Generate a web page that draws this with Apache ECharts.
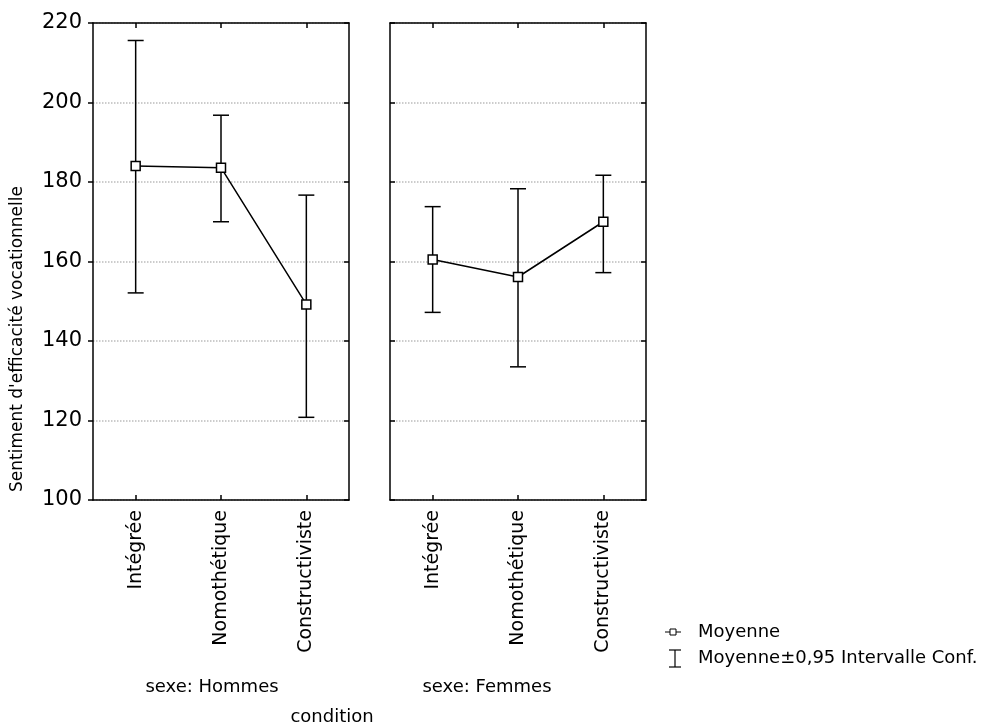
<!DOCTYPE html>
<html>
<head>
<meta charset="utf-8">
<script src="https://cdn.jsdelivr.net/npm/echarts@6/dist/echarts.min.js"></script>
<style>html,body{margin:0;padding:0;background:#fff}#c{width:985px;height:727px}</style>
</head>
<body>
<div id="c"></div>
<script>
var categories = ['Intégrée', 'Nomothétique', 'Constructiviste'];
var hommesMean = [184.0, 183.6, 149.2];
var hommesLow = [152.1, 170.0, 120.8];
var hommesHigh = [215.6, 196.8, 176.7];
var femmesMean = [160.5, 156.1, 170.0];
var femmesLow = [147.2, 133.5, 157.2];
var femmesHigh = [173.8, 178.3, 181.7];
var yTicks = [100, 120, 140, 160, 180, 200, 220];
var panelTitles = ['sexe: Hommes', 'sexe: Femmes'];
var xTitle = 'condition';
var yTitle = "Sentiment d'efficacité vocationnelle";
var legendMean = 'Moyenne';
var legendCI = 'Moyenne±0,95 Intervalle Conf.';

var FONT = 'DejaVu Sans';
var chart = echarts.init(document.getElementById('c'), null, {renderer: 'canvas'});

function errData(low, high) {
  return categories.map(function (c, i) { return [i, low[i], high[i]]; });
}
function renderErr(params, api) {
  var x = api.value(0);
  var lo = api.coord([x, api.value(1)]);
  var hi = api.coord([x, api.value(2)]);
  var cap = 8;
  var st = {stroke: '#000', lineWidth: 1.5, fill: null};
  return {
    type: 'group',
    children: [
      {type: 'line', shape: {x1: hi[0], y1: hi[1], x2: lo[0], y2: lo[1]}, style: st},
      {type: 'line', shape: {x1: hi[0] - cap, y1: hi[1], x2: hi[0] + cap, y2: hi[1]}, style: st},
      {type: 'line', shape: {x1: lo[0] - cap, y1: lo[1], x2: lo[0] + cap, y2: lo[1]}, style: st}
    ]
  };
}

var yMin = yTicks[0], yMax = yTicks[yTicks.length - 1], yStep = yTicks[1] - yTicks[0];
function yAxisDef(gi, pos, showLabel, tickInside) {
  return {
    type: 'value', gridIndex: gi, position: pos, min: yMin, max: yMax, interval: yStep,
    axisLine: {show: true, lineStyle: {color: '#000', width: 1.5}},
    axisTick: {show: true, inside: tickInside, length: 5, lineStyle: {color: '#000', width: 1.5}},
    axisLabel: {show: showLabel, color: '#000', fontFamily: FONT, fontSize: 21, margin: 11},
    splitLine: {show: pos === 'left', lineStyle: {color: '#bcbcbc', type: 'dotted', width: 1.5}}
  };
}
function xAxisDef(gi, pos, showLabel) {
  return {
    type: 'category', gridIndex: gi, position: pos, data: categories, boundaryGap: true,
    axisLine: {show: true, onZero: false, lineStyle: {color: '#000', width: 1.5}},
    axisTick: {show: true, inside: true, alignWithLabel: true, length: 5, lineStyle: {color: '#000', width: 1.5}},
    axisLabel: {show: showLabel, rotate: 90, color: '#000', fontFamily: FONT, fontSize: 19, margin: 10, interval: 0},
    splitLine: {show: false}
  };
}

var option = {
  animation: false,
  backgroundColor: '#fff',
  grid: [
    {left: 93, top: 23, width: 256, height: 477},
    {left: 390, top: 23, width: 256, height: 477}
  ],
  xAxis: [xAxisDef(0, 'bottom', true), xAxisDef(0, 'top', false), xAxisDef(1, 'bottom', true), xAxisDef(1, 'top', false)],
  yAxis: [yAxisDef(0, 'left', true, false), yAxisDef(0, 'right', false, true), yAxisDef(1, 'left', false, true), yAxisDef(1, 'right', false, true)],
  series: [
    {type: 'custom', xAxisIndex: 0, yAxisIndex: 0, data: errData(hommesLow, hommesHigh), renderItem: renderErr, z: 2},
    {type: 'custom', xAxisIndex: 2, yAxisIndex: 2, data: errData(femmesLow, femmesHigh), renderItem: renderErr, z: 2},
    {type: 'line', xAxisIndex: 0, yAxisIndex: 0, data: hommesMean, symbol: 'rect', symbolSize: 9, z: 3,
      lineStyle: {color: '#000', width: 1.5}, itemStyle: {color: '#fff', borderColor: '#000', borderWidth: 1.5}},
    {type: 'line', xAxisIndex: 2, yAxisIndex: 2, data: femmesMean, symbol: 'rect', symbolSize: 9, z: 3,
      lineStyle: {color: '#000', width: 1.5}, itemStyle: {color: '#fff', borderColor: '#000', borderWidth: 1.5}}
  ],
  graphic: [
    {type: 'text', x: 18, y: 339, rotation: Math.PI / 2,
      style: {text: yTitle, font: '17px "DejaVu Sans"', fill: '#000', align: 'center', verticalAlign: 'middle'}},
    {type: 'text', x: 212, y: 687, style: {text: panelTitles[0], font: '18px "DejaVu Sans"', fill: '#000', align: 'center', verticalAlign: 'middle'}},
    {type: 'text', x: 487, y: 687, style: {text: panelTitles[1], font: '18px "DejaVu Sans"', fill: '#000', align: 'center', verticalAlign: 'middle'}},
    {type: 'text', x: 332, y: 717, style: {text: xTitle, font: '18px "DejaVu Sans"', fill: '#000', align: 'center', verticalAlign: 'middle'}},
    {type: 'line', shape: {x1: 665, y1: 632, x2: 681, y2: 632}, style: {stroke: '#000', lineWidth: 1}},
    {type: 'rect', shape: {x: 670, y: 629, width: 6, height: 6}, style: {fill: '#fff', stroke: '#000', lineWidth: 1}},
    {type: 'text', x: 698, y: 632, style: {text: legendMean, font: '18px "DejaVu Sans"', fill: '#000', align: 'left', verticalAlign: 'middle'}},
    {type: 'line', shape: {x1: 675, y1: 650, x2: 675, y2: 667}, style: {stroke: '#000', lineWidth: 1.2}},
    {type: 'line', shape: {x1: 669, y1: 650, x2: 681, y2: 650}, style: {stroke: '#000', lineWidth: 1.2}},
    {type: 'line', shape: {x1: 669, y1: 667, x2: 681, y2: 667}, style: {stroke: '#000', lineWidth: 1.2}},
    {type: 'text', x: 698, y: 658, style: {text: legendCI, font: '18px "DejaVu Sans"', fill: '#000', align: 'left', verticalAlign: 'middle'}}
  ]
};
chart.setOption(option);
</script>
</body>
</html>
